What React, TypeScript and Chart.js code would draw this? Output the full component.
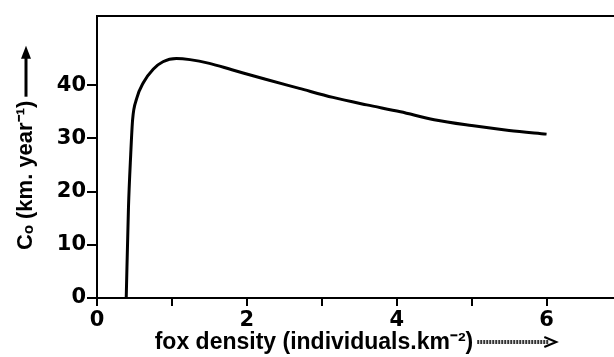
import React, { useEffect, useRef } from "react";
import { Chart, registerables } from "chart.js";

Chart.register(...registerables);

const densityX = [0.39, 0.42, 0.45, 0.475, 0.53, 0.62, 0.75, 0.88, 1.06, 1.24, 1.5, 1.8, 2.25, 2.7, 3.15, 3.6, 4.05, 4.5, 5.0, 5.5, 6.0];
const coValues = [0, 17, 27, 33.5, 37.5, 40.5, 43, 44.4, 45, 44.8, 44.1, 42.9, 41.1, 39.4, 37.7, 36.3, 35, 33.5, 32.4, 31.5, 30.8];
const xTicks = [0, 1, 2, 3, 4, 5, 6];
const xTickLabels = ["0", "", "2", "", "4", "", "6"];
const yTicks = [0, 10, 20, 30, 40];
const xTitleText = "fox density (individuals.km⁻²)";
const yTitleText = "Cₒ (km. year⁻¹)";

const X_TITLE_FONT = "bold 23px 'Liberation Sans'";
const Y_TITLE_FONT = "bold 22px 'Liberation Sans'";
const xLead = "";
const xTrail = "             ";
const yLead = "   ";
const yTrail = "         ";

const framePlugin = {
  id: "frame",
  afterDraw(chart: any) {
    const { ctx, chartArea } = chart;
    ctx.save();
    ctx.strokeStyle = "#000";
    ctx.fillStyle = "#000";
    ctx.lineWidth = 2;
    ctx.beginPath();
    ctx.moveTo(chartArea.left - 1, chartArea.top);
    ctx.lineTo(chart.width, chartArea.top);
    ctx.moveTo(chartArea.left - 9, chartArea.bottom);
    ctx.lineTo(chartArea.left, chartArea.bottom);
    ctx.stroke();

    // y title arrow (points up)
    ctx.font = Y_TITLE_FONT;
    const yW = ctx.measureText(yLead + yTitleText + yTrail).width;
    const yLeadW = ctx.measureText(yLead).width;
    const yTextW = ctx.measureText(yTitleText).width;
    const cy = (chartArea.top + chartArea.bottom) / 2;
    const yBottom = cy + yW / 2;
    const yTextTop = yBottom - yLeadW - yTextW;
    const yTip = cy - yW / 2;
    const ax = 26;
    ctx.lineWidth = 3;
    ctx.beginPath();
    ctx.moveTo(ax, yTextTop - 4);
    ctx.lineTo(ax, yTip + 10);
    ctx.stroke();
    ctx.beginPath();
    ctx.moveTo(ax, yTip);
    ctx.lineTo(ax - 5, yTip + 13);
    ctx.lineTo(ax + 5, yTip + 13);
    ctx.closePath();
    ctx.fill();

    // x title arrow (points right, hatched)
    ctx.font = X_TITLE_FONT;
    const xW = ctx.measureText(xLead + xTitleText + xTrail).width;
    const xTextW = ctx.measureText(xLead + xTitleText).width;
    const cx = (chartArea.left + chartArea.right) / 2;
    const xTextEnd = cx - xW / 2 + xTextW;
    const xTip = cx + xW / 2;
    const ay = 342;
    ctx.strokeStyle = "#333";
    ctx.lineWidth = 4;
    ctx.setLineDash([2, 1]);
    ctx.beginPath();
    ctx.moveTo(xTextEnd + 4, ay);
    ctx.lineTo(xTip - 8, ay);
    ctx.stroke();
    ctx.setLineDash([]);
    ctx.strokeStyle = "#000";
    ctx.lineWidth = 2;
    ctx.beginPath();
    ctx.moveTo(xTip - 12, ay - 5);
    ctx.lineTo(xTip, ay);
    ctx.lineTo(xTip - 12, ay + 5);
    ctx.stroke();
    ctx.restore();
  },
};

export default function App() {
  const ref = useRef<HTMLCanvasElement | null>(null);

  useEffect(() => {
    if (!ref.current) return;
    const data = densityX.map((x, i) => ({ x, y: coValues[i] }));
    const chart = new Chart(ref.current, {
      type: "line",
      data: {
        datasets: [
          {
            data,
            borderColor: "#000",
            borderWidth: 3,
            pointRadius: 0,
            cubicInterpolationMode: "monotone",
            fill: false,
          },
        ],
      },
      options: {
        animation: false,
        responsive: false,
        devicePixelRatio: 1,
        layout: { padding: { top: 16, right: 0, left: 0, bottom: 0 } },
        plugins: { legend: { display: false }, tooltip: { enabled: false } },
        scales: {
          x: {
            type: "linear",
            min: 0,
            max: 6.9,
            afterBuildTicks: (scale: any) => {
              scale.ticks = xTicks.map((v) => ({ value: v }));
            },
            afterFit: (scale: any) => {
              scale.height = 59;
            },
            border: { display: true, color: "#000", width: 2 },
            grid: { display: true, drawOnChartArea: false, drawTicks: true, tickLength: 8, color: "#000", lineWidth: 2 },
            ticks: {
              color: "#000",
              padding: 2,
              maxRotation: 0,
              autoSkip: false,
              font: { family: "DejaVu Sans", size: 21, weight: "bold" },
              callback: (v: any) => {
                const i = xTicks.indexOf(Number(v));
                return i >= 0 ? xTickLabels[i] : "";
              },
            },
            title: {
              display: true,
              text: xLead + xTitleText + xTrail,
              color: "#000",
              font: { family: "Liberation Sans", size: 23, weight: "bold" },
              padding: { top: 0, bottom: 1 },
            },
          },
          y: {
            type: "linear",
            min: 0,
            max: 53,
            afterBuildTicks: (scale: any) => {
              scale.ticks = yTicks.map((v) => ({ value: v }));
            },
            afterFit: (scale: any) => {
              scale.width = 97;
            },
            border: { display: true, color: "#000", width: 2 },
            grid: { display: true, drawOnChartArea: false, drawTicks: true, tickLength: 10, color: "#000", lineWidth: 2 },
            ticks: {
              color: "#000",
              padding: 1,
              font: { family: "DejaVu Sans", size: 21, weight: "bold" },
              callback: (v: any) => String(v),
            },
            title: {
              display: true,
              text: yLead + yTitleText + yTrail,
              color: "#000",
              font: { family: "Liberation Sans", size: 22, weight: "bold" },
              padding: { top: 13, bottom: 0 },
            },
          },
        },
      },
      plugins: [framePlugin],
    } as any);
    return () => chart.destroy();
  }, []);

  return (
    <div style={{ position: "fixed", left: 0, top: 0, width: 614, height: 357, background: "#fff" }}>
      <canvas ref={ref} width={614} height={357} style={{ width: 614, height: 357, display: "block" }} />
    </div>
  );
}
